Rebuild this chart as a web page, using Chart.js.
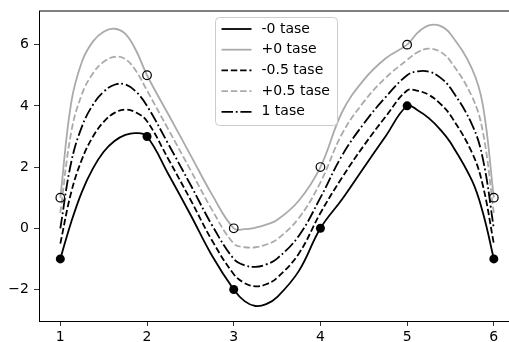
<!DOCTYPE html>
<html>
<head>
<meta charset="utf-8">
<script src="https://cdn.jsdelivr.net/npm/chart.js@4.4.0/dist/chart.umd.min.js"></script>
<style>
  html, body { margin: 0; padding: 0; background: #fff; }
  #wrap { width: 509px; height: 342px; }
</style>
</head>
<body>
<div id="wrap"><canvas id="splineChart" width="509" height="342"></canvas></div>
<script>
const xs = [1, 1.125, 1.25, 1.375, 1.5, 1.625, 1.75, 1.875, 2, 2.25, 2.5, 2.75, 3, 3.125, 3.25, 3.375, 3.5, 3.75,
            4, 4.25, 4.5, 4.75, 5, 5.125, 5.25, 5.375, 5.5, 5.75, 5.875, 6];

// curve values
const minus0 = [-1, 0.2, 1.2, 1.95, 2.5, 2.85, 3.05, 3.11, 3.0, 1.75, 0.45, -0.9, -2.0, -2.38, -2.54, -2.48, -2.25, -1.4,
                0.0, 0.95, 1.98, 3.0, 4.0, 3.85, 3.6, 3.25, 2.8, 1.55, 0.5, -1.0];
const plus0 = [1.0, 4.1, 5.45, 6.1, 6.42, 6.52, 6.35, 5.8, 5.0, 3.7, 2.4, 1.1, 0.0, -0.03, 0.02, 0.12, 0.27, 0.9,
               2.0, 3.8, 4.85, 5.55, 6.0, 6.4, 6.63, 6.62, 6.35, 5.2, 4.0, 1.0];
const minusHalf = [-0.5, 1.17, 2.26, 2.99, 3.48, 3.77, 3.88, 3.78, 3.5, 2.24, 0.94, -0.4, -1.5, -1.79, -1.9, -1.83, -1.62, -0.83,
                   0.5, 1.66, 2.7, 3.64, 4.5, 4.49, 4.36, 4.09, 3.69, 2.46, 1.38, -0.5];
const plusHalf = [0.5, 3.13, 4.39, 5.06, 5.44, 5.6, 5.53, 5.13, 4.5, 3.21, 1.91, 0.6, -0.5, -0.62, -0.62, -0.53, -0.36, 0.33,
                  1.5, 3.09, 4.13, 4.91, 5.5, 5.76, 5.87, 5.78, 5.46, 4.29, 3.13, 0.5];
const one = [0.0, 2.15, 3.33, 4.03, 4.46, 4.69, 4.7, 4.46, 4.0, 2.73, 1.43, 0.1, -1.0, -1.21, -1.26, -1.18, -0.99, -0.25,
             1.0, 2.38, 3.42, 4.28, 5.0, 5.13, 5.12, 4.94, 4.58, 3.38, 2.25, 0.0];

// marked points
const markerX = [1, 2, 3, 4, 5, 6];
const markerDark = [-1, 3, -2, 0, 4, -1];
const markerLight = [1, 5, 0, 2, 6, 1];

// ticks
const xTicks = [1, 2, 3, 4, 5, 6];
const yTicks = [-2, 0, 2, 4, 6];

const GRAY = '#aaaaaa';
const LW = 1.8;
const FONT = { family: "'DejaVu Sans', sans-serif", size: 14 };

function toPoints(xv, yv) {
    return xv.map((x, i) => ({ x: x, y: yv[i] }));
}

function curve(label, values, color, dash) {
    return {
        type: 'line',
        label: label,
        data: toPoints(xs, values),
        borderColor: color,
        borderWidth: LW,
        borderDash: dash,
        pointRadius: 0,
        fill: false,
        tension: 0.4,
        order: 2
    };
}

const DASHED = [6.5, 2.8];
const DASHDOT = [11.5, 2.8, 1.8, 2.8];

// Top spine + boxed legend inside the plot
const framePlugin = {
    id: 'frameAndLegend',
    afterDraw(chart) {
        const ctx = chart.ctx;
        const area = chart.chartArea;
        ctx.save();
        ctx.strokeStyle = '#000';
        ctx.lineWidth = 1;
        ctx.beginPath();
        ctx.moveTo(area.left, area.top);
        ctx.lineTo(area.right, area.top);
        ctx.stroke();

        // legend box
        const bx = 215.5, by = 17.5, bw = 122, bh = 108, r = 4;
        ctx.beginPath();
        ctx.moveTo(bx + r, by);
        ctx.lineTo(bx + bw - r, by);
        ctx.quadraticCurveTo(bx + bw, by, bx + bw, by + r);
        ctx.lineTo(bx + bw, by + bh - r);
        ctx.quadraticCurveTo(bx + bw, by + bh, bx + bw - r, by + bh);
        ctx.lineTo(bx + r, by + bh);
        ctx.quadraticCurveTo(bx, by + bh, bx, by + bh - r);
        ctx.lineTo(bx, by + r);
        ctx.quadraticCurveTo(bx, by, bx + r, by);
        ctx.closePath();
        ctx.fillStyle = 'rgba(255,255,255,0.8)';
        ctx.fill();
        ctx.strokeStyle = '#cccccc';
        ctx.lineWidth = 1;
        ctx.stroke();

        ctx.font = FONT.size + 'px ' + FONT.family;
        ctx.textBaseline = 'middle';
        ctx.textAlign = 'left';
        let row = 0;
        chart.data.datasets.forEach(ds => {
            if (ds.type !== 'line') return;
            const y = 29 + row * 20.7;
            ctx.beginPath();
            ctx.setLineDash(ds.borderDash || []);
            ctx.strokeStyle = ds.borderColor;
            ctx.lineWidth = LW;
            ctx.moveTo(221.5, y);
            ctx.lineTo(251.5, y);
            ctx.stroke();
            ctx.setLineDash([]);
            ctx.fillStyle = '#000';
            ctx.fillText(ds.label, 261.5, y);
            row++;
        });
        ctx.restore();
    }
};

const ctx = document.getElementById('splineChart').getContext('2d');

new Chart(ctx, {
    data: {
        datasets: [
            curve('-0 tase', minus0, '#000', []),
            curve('+0 tase', plus0, GRAY, []),
            curve('-0.5 tase', minusHalf, '#000', DASHED),
            curve('+0.5 tase', plusHalf, GRAY, DASHED),
            curve('1 tase', one, '#000', DASHDOT),
            {
                type: 'scatter',
                label: 'dark points',
                data: toPoints(markerX, markerDark),
                pointRadius: 4.5,
                pointBackgroundColor: '#000',
                pointBorderColor: '#000',
                pointBorderWidth: 0,
                order: 1
            },
            {
                type: 'scatter',
                label: 'light points',
                data: toPoints(markerX, markerLight),
                pointRadius: 4.3,
                pointBackgroundColor: 'rgba(0,0,0,0)',
                pointBorderColor: '#000',
                pointBorderWidth: 1.2,
                order: 1
            }
        ]
    },
    options: {
        responsive: false,
        animation: false,
        layout: { autoPadding: false, padding: { top: 11, right: 0, left: 0, bottom: 0 } },
        plugins: {
            legend: { display: false },
            tooltip: { enabled: false }
        },
        scales: {
            x: {
                type: 'linear',
                min: 0.754,
                max: 6.175,
                afterBuildTicks: scale => { scale.ticks = xTicks.map(v => ({ value: v })); },
                afterFit: scale => {
                    scale.height = 21;
                    scale.paddingLeft = 0;
                    scale.paddingRight = 0;
                },
                grid: { display: true, drawOnChartArea: false, drawTicks: true, tickLength: 5, color: '#000', lineWidth: 0.8 },
                border: { display: true, color: '#000', width: 1 },
                ticks: { font: FONT, color: '#000', padding: 3, maxRotation: 0 }
            },
            y: {
                type: 'linear',
                min: -3.03,
                max: 7.10,
                afterBuildTicks: scale => { scale.ticks = yTicks.map(v => ({ value: v })); },
                afterFit: scale => {
                    scale.width = 39;
                    scale.paddingTop = 0;
                    scale.paddingBottom = 0;
                },
                grid: { display: true, drawOnChartArea: false, drawTicks: true, tickLength: 5, color: '#000', lineWidth: 0.8 },
                border: { display: true, color: '#000', width: 1 },
                ticks: {
                    font: FONT,
                    color: '#000',
                    padding: 5,
                    callback: v => (v < 0 ? '\u2212' + Math.abs(v) : String(v))
                }
            }
        }
    },
    plugins: [framePlugin]
});
</script>
</body>
</html>
